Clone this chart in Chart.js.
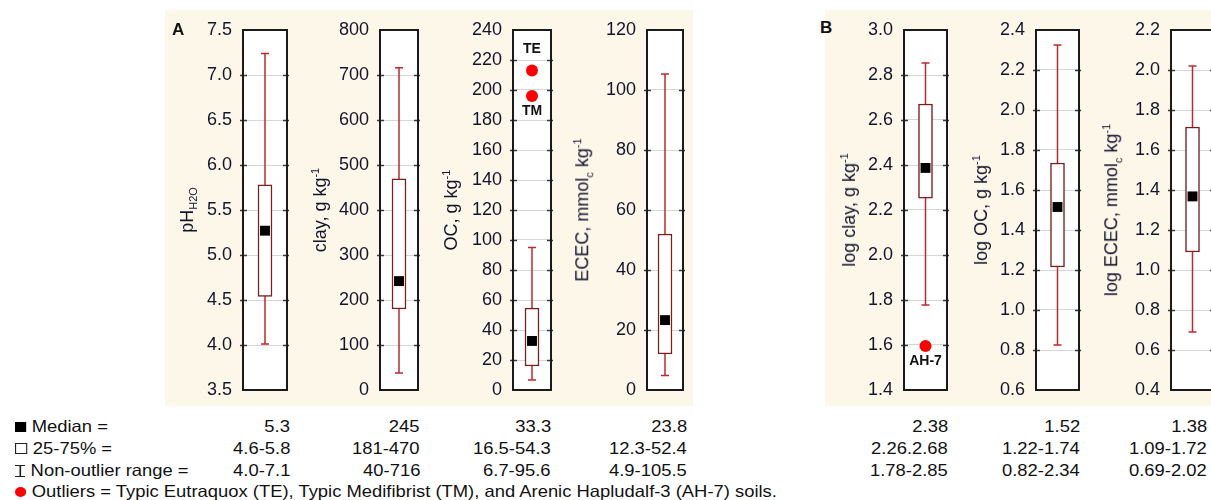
<!DOCTYPE html>
<html>
<head>
<meta charset="utf-8">
<script src="https://cdn.jsdelivr.net/npm/chart.js@4.4.1/dist/chart.umd.min.js"></script>
<style>
  html, body { margin:0; padding:0; background:#ffffff; width:1211px; height:500px; overflow:hidden; }
  body { position:relative; font-family:"Liberation Sans", Arial, sans-serif; color:#111; }
  .panelbg { position:absolute; background:#FDF7EA; }
  .cv { position:absolute; }
  .title { position:absolute; white-space:nowrap; font-size:18px; transform:translate(-50%,-50%) rotate(-90deg); z-index:5; color:#15152a; }
  .title sub, .title sup { font-size:11px; }
  .letter { position:absolute; font-weight:bold; font-size:17px; z-index:5; }
  .row { position:absolute; font-size:16.5px; line-height:20px; white-space:nowrap; transform:scaleX(1.115); transform-origin:left center; }
  .val { position:absolute; font-size:16.5px; line-height:20px; white-space:nowrap; text-align:right; transform:scaleX(1.115); transform-origin:right center; }
  .sym { display:inline-block; vertical-align:middle; box-sizing:border-box; margin-right:5px; position:relative; top:-1px; }
</style>
</head>
<body>
<div class="panelbg" style="left:165px;top:10px;width:528px;height:396px;"></div>
<div class="panelbg" style="left:825px;top:10px;width:386px;height:396px;"></div>
<div class="letter" style="left:172px;top:20px;">A</div>
<div class="letter" style="left:820px;top:18px;">B</div>
<div id="charts"></div>
<div id="table"></div>
<script>
// ---------------- DATA ----------------
const variables   = ['pH', 'clay', 'OC', 'ECEC', 'log clay', 'log OC', 'log ECEC'];
const whiskerMin  = [4.01, 38, 6.7, 4.8, 1.778, 0.825, 0.69];
const boxQ1       = [4.54, 180, 16.0, 12.0, 2.253, 1.215, 1.09];
const medians     = [5.27, 242, 32.7, 23.3, 2.387, 1.515, 1.368];
const boxQ3       = [5.78, 469, 54.6, 52.0, 2.671, 1.735, 1.715];
const whiskerMax  = [7.24, 716, 95.0, 105.3, 2.853, 2.325, 2.02];
const outlierValues = [[], [], [213, 196], [], [1.596], [], []];
const outlierNames  = [[], [], ['TE', 'TM'], [], ['AH-7'], [], []];
const tickValues = [
  [3.5, 4.0, 4.5, 5.0, 5.5, 6.0, 6.5, 7.0, 7.5],
  [0, 100, 200, 300, 400, 500, 600, 700, 800],
  [0, 20, 40, 60, 80, 100, 120, 140, 160, 180, 200, 220, 240],
  [0, 20, 40, 60, 80, 100, 120],
  [1.4, 1.6, 1.8, 2.0, 2.2, 2.4, 2.6, 2.8, 3.0],
  [0.6, 0.8, 1.0, 1.2, 1.4, 1.6, 1.8, 2.0, 2.2, 2.4],
  [0.4, 0.6, 0.8, 1.0, 1.2, 1.4, 1.6, 1.8, 2.0, 2.2]
];
const tickDecimals = [1, 0, 0, 0, 1, 1, 1];
const axisTitles = [
  'pH<sub>H2O</sub>',
  'clay, g kg<sup>-1</sup>',
  'OC, g kg<sup>-1</sup>',
  'ECEC, mmol<sub>c</sub> kg<sup>-1</sup>',
  'log clay, g kg<sup>-1</sup>',
  'log OC, g kg<sup>-1</sup>',
  'log ECEC, mmol<sub>c</sub> kg<sup>-1</sup>'
];
const medianText = ['5.3', '245', '33.3', '23.8', '2.38', '1.52', '1.38'];
const iqrText    = ['4.6-5.8', '181-470', '16.5-54.3', '12.3-52.4', '2.26.2.68', '1.22-1.74', '1.09-1.72'];
const rangeText  = ['4.0-7.1', '40-716', '6.7-95.6', '4.9-105.5', '1.78-2.85', '0.82-2.34', '0.69-2.02'];
const rowLabels  = ['Median =', '25-75% =', 'Non-outlier range =', 'Outliers = Typic Eutraquox (TE), Typic Medifibrist (TM), and Arenic Hapludalf-3 (AH-7) soils.'];

// ---------------- LAYOUT / STYLE ----------------
const plotLeft   = [243, 380, 513, 647, 904, 1036, 1171];
const plotWidth  = [44, 38, 38, 36, 43, 43, 43];
const titleX     = [188, 320, 451, 583, 849, 981, 1112];
const labelSide  = [[], [], ['above', 'below'], [], ['below'], [], []];
const plotTop = 30, plotBottom = 390;
const axisW = 60, padR = 8, canvasTop = 15;
const boxColor = '#7A1E1E', whiskerColor = '#C0282C';
const FONT = '"Liberation Sans", Arial, sans-serif';

const framePlugin = {
  id: 'frame',
  beforeDraw(chart) {
    const a = chart.chartArea, c = chart.ctx;
    c.save(); c.fillStyle = '#ffffff'; c.fillRect(a.left, a.top, a.right - a.left, a.bottom - a.top); c.restore();
  },
  afterDraw(chart) {
    const a = chart.chartArea, c = chart.ctx, y = chart.scales.y;
    c.save();
    c.strokeStyle = '#3a3a3a'; c.lineWidth = 1.5;
    y.ticks.forEach((t, i) => {
      if (i === 0 || i === y.ticks.length - 1) return;
      const py = Math.round(y.getPixelForValue(t.value)) + 0.5;
      c.beginPath(); c.moveTo(a.left - 3, py); c.lineTo(a.left + 4, py); c.stroke();
      c.beginPath(); c.moveTo(a.right - 4, py); c.lineTo(a.right + 2, py); c.stroke();
    });
    c.strokeStyle = '#1a1a1a'; c.lineWidth = 2;
    c.strokeRect(a.left, a.top, a.right - a.left, a.bottom - a.top);
    // outlier labels
    const idx = chart.options.panelIndex;
    const meta = chart.getDatasetMeta(3);
    c.fillStyle = '#111'; c.font = 'bold 14px ' + FONT; c.textAlign = 'center'; c.textBaseline = 'middle';
    meta.data.forEach((pt, k) => {
      const side = labelSide[idx][k];
      const dy = side === 'above' ? -21 : 15;
      c.fillText(outlierNames[idx][k], pt.x, pt.y + dy);
    });
    c.restore();
  }
};

const chartsDiv = document.getElementById('charts');
variables.forEach((name, i) => {
  const w = axisW + plotWidth[i] + padR;
  const h = plotBottom - canvasTop + 10;
  const cv = document.createElement('canvas');
  cv.className = 'cv';
  cv.width = w; cv.height = h;
  cv.style.left = (plotLeft[i] - axisW) + 'px';
  cv.style.top = canvasTop + 'px';
  cv.style.width = w + 'px'; cv.style.height = h + 'px';
  chartsDiv.appendChild(cv);

  const t = document.createElement('div');
  t.className = 'title';
  t.innerHTML = axisTitles[i];
  t.style.left = titleX[i] + 'px';
  t.style.top = ((plotTop + plotBottom) / 2) + 'px';
  document.body.appendChild(t);

  const ticks = tickValues[i];
  new Chart(cv, {
    type: 'bar',
    data: {
      labels: [name],
      datasets: [
        { type: 'bar', data: [[boxQ1[i], boxQ3[i]]], backgroundColor: '#ffffff', borderColor: boxColor,
          borderWidth: 1.5, borderSkipped: false, barThickness: 14, order: 2 },
        { type: 'line', data: [{ x: name, y: whiskerMin[i] }, { x: name, y: whiskerMax[i] }],
          borderColor: whiskerColor, borderWidth: 1.5, pointStyle: 'line', pointRadius: 4,
          pointBorderColor: whiskerColor, pointBorderWidth: 1.5, order: 3 },
        { type: 'line', data: [{ x: name, y: medians[i] }], showLine: false, pointStyle: 'rect',
          pointRadius: 7, pointBackgroundColor: '#000000', pointBorderWidth: 0, order: 1 },
        { type: 'line', data: outlierValues[i].map(v => ({ x: name, y: v })), showLine: false,
          pointStyle: 'circle', pointRadius: 6, pointBackgroundColor: '#FF0000', pointBorderWidth: 0, order: 0 }
      ]
    },
    options: {
      panelIndex: i,
      responsive: false, animation: false, events: [],
      layout: { padding: { top: plotTop - canvasTop, bottom: 10, left: 0, right: padR } },
      plugins: { legend: { display: false }, tooltip: { enabled: false } },
      scales: {
        x: { display: false, offset: true },
        y: {
          min: ticks[0], max: ticks[ticks.length - 1],
          afterFit(s) { s.width = axisW; s.paddingTop = 0; s.paddingBottom = 0; },
          afterBuildTicks(s) { s.ticks = ticks.map(v => ({ value: v })); },
          ticks: { padding: 11, color: '#15152a', font: { family: FONT, size: 18 },
                   callback(v) { return Number(v).toFixed(tickDecimals[i]); } },
          grid: { color: '#d6d6d6', lineWidth: 1, drawTicks: false },
          border: { display: false }
        }
      }
    },
    plugins: [framePlugin]
  });
});

// ---------------- TABLE ----------------
const tbl = document.getElementById('table');
const rowCenters = [426, 448, 470, 491];
const valueRight = [290, 420, 551, 687, 948, 1080, 1207];
const symbols = [
  '<span class="sym" style="width:10px;height:10px;background:#000;"></span>',
  '<span class="sym" style="width:11px;height:11px;border:1.5px solid #222;background:#fff;"></span>',
  '<span class="sym" style="width:9px;height:12px;border-top:1.5px solid #222;border-bottom:1.5px solid #222;background:linear-gradient(#222,#222) no-repeat center/1.5px 100%;"></span>',
  '<span class="sym" style="width:10px;height:10px;border-radius:50%;background:#FF0000;"></span>'
];
rowLabels.forEach((txt, r) => {
  const d = document.createElement('div');
  d.className = 'row';
  d.style.left = '15px';
  d.style.top = (rowCenters[r] - 10) + 'px';
  d.innerHTML = symbols[r] + txt;
  tbl.appendChild(d);
});
[medianText, iqrText, rangeText].forEach((arr, r) => {
  arr.forEach((txt, i) => {
    const d = document.createElement('div');
    d.className = 'val';
    d.style.right = (1211 - valueRight[i]) + 'px';
    d.style.top = (rowCenters[r] - 10) + 'px';
    d.textContent = txt;
    tbl.appendChild(d);
  });
});
</script>
</body>
</html>
